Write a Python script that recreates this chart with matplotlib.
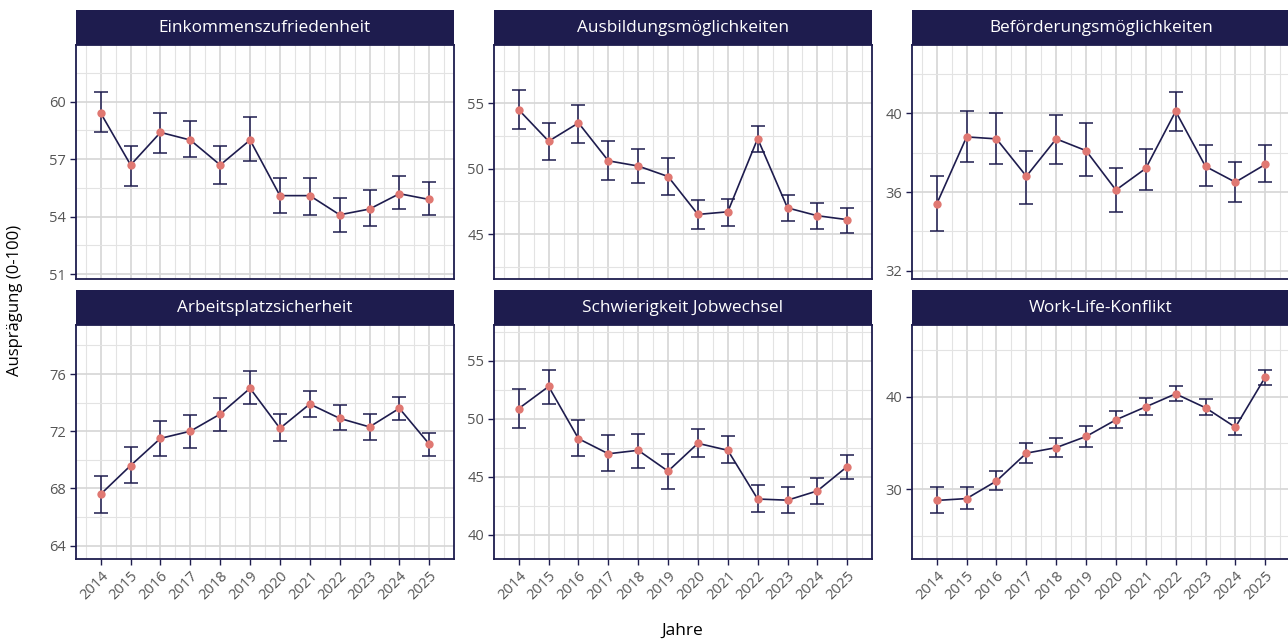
import numpy as np
import matplotlib
matplotlib.use("Agg")
from matplotlib import pyplot as plt

plt.rcParams['font.family'] = ['Open Sans', 'DejaVu Sans']

# data
years = list(range(2014, 2026))

titles = ["Einkommenszufriedenheit", "Ausbildungsmöglichkeiten",
          "Beförderungsmöglichkeiten", "Arbeitsplatzsicherheit",
          "Schwierigkeit Jobwechsel", "Work-Life-Konflikt"]

einkommen = [59.4, 56.7, 58.4, 58.0, 56.7, 58.0, 55.1, 55.1, 54.1, 54.4, 55.2, 54.9]
einkommen_lo = [58.4, 55.6, 57.3, 57.1, 55.7, 56.9, 54.2, 54.1, 53.2, 53.5, 54.4, 54.1]
einkommen_hi = [60.5, 57.7, 59.4, 59.0, 57.7, 59.2, 56.0, 56.0, 55.0, 55.4, 56.1, 55.8]

ausbildung = [54.5, 52.1, 53.5, 50.6, 50.2, 49.4, 46.5, 46.7, 52.3, 47.0, 46.4, 46.1]
ausbildung_lo = [53.0, 50.7, 52.0, 49.1, 48.9, 48.0, 45.4, 45.6, 51.3, 46.0, 45.4, 45.1]
ausbildung_hi = [56.0, 53.5, 54.9, 52.1, 51.5, 50.8, 47.6, 47.7, 53.3, 48.0, 47.4, 47.0]

befoerderung = [35.4, 38.8, 38.7, 36.8, 38.7, 38.1, 36.1, 37.2, 40.1, 37.3, 36.5, 37.4]
befoerderung_lo = [34.0, 37.5, 37.4, 35.4, 37.4, 36.8, 35.0, 36.1, 39.1, 36.3, 35.5, 36.5]
befoerderung_hi = [36.8, 40.1, 40.0, 38.1, 39.9, 39.5, 37.2, 38.2, 41.1, 38.4, 37.5, 38.4]

sicherheit = [67.6, 69.6, 71.5, 72.0, 73.2, 75.0, 72.2, 73.9, 72.9, 72.3, 73.6, 71.1]
sicherheit_lo = [66.3, 68.4, 70.3, 70.8, 72.0, 73.9, 71.3, 73.0, 72.1, 71.4, 72.8, 70.3]
sicherheit_hi = [68.9, 70.9, 72.7, 73.1, 74.3, 76.2, 73.2, 74.8, 73.8, 73.2, 74.4, 71.9]

jobwechsel = [50.9, 52.8, 48.3, 47.0, 47.3, 45.5, 47.9, 47.3, 43.1, 43.0, 43.8, 45.9]
jobwechsel_lo = [49.2, 51.3, 46.8, 45.5, 45.8, 44.0, 46.7, 46.2, 42.0, 41.9, 42.7, 44.8]
jobwechsel_hi = [52.6, 54.2, 49.9, 48.6, 48.7, 47.0, 49.1, 48.5, 44.3, 44.1, 44.9, 46.9]

worklife = [28.8, 29.0, 30.9, 33.9, 34.5, 35.7, 37.5, 38.9, 40.3, 38.8, 36.7, 42.1]
worklife_lo = [27.4, 27.9, 29.9, 32.8, 33.5, 34.6, 36.6, 38.0, 39.5, 38.0, 35.9, 41.3]
worklife_hi = [30.2, 30.2, 32.0, 35.0, 35.5, 36.8, 38.4, 39.8, 41.2, 39.7, 37.7, 42.9]

means = [einkommen, ausbildung, befoerderung, sicherheit, jobwechsel, worklife]
lows = [einkommen_lo, ausbildung_lo, befoerderung_lo, sicherheit_lo, jobwechsel_lo, worklife_lo]
highs = [einkommen_hi, ausbildung_hi, befoerderung_hi, sicherheit_hi, jobwechsel_hi, worklife_hi]

ylims = [(50.75, 62.96), (41.56, 59.46), (31.58, 43.47),
         (63.06, 79.43), (37.93, 58.10), (22.48, 47.73)]
yticks = [[51, 54, 57, 60], [45, 50, 55], [32, 36, 40],
          [64, 68, 72, 76], [40, 45, 50, 55], [30, 40]]
yminor = [[52.5, 55.5, 58.5, 61.5], [42.5, 47.5, 52.5, 57.5], [34, 38, 42],
          [66, 70, 74, 78], [42.5, 47.5, 52.5, 57.5], [25, 35, 45]]

navy = "#1e1c4e"
salmon = "#e07872"
W, H = 1288, 642

fig = plt.figure(figsize=(W / 100, H / 100), dpi=100)

col_x = [76, 494, 912]
pw = 378
row_y = [45, 325]
ph = 234
sh = 35

for i in range(6):
    r, c = divmod(i, 3)
    x0, y0 = col_x[c], row_y[r]
    ax = fig.add_axes([x0 / W, 1 - (y0 + ph) / H, pw / W, ph / H])
    sax = fig.add_axes([x0 / W, 1 - y0 / H, pw / W, sh / H])
    sax.set_facecolor(navy)
    sax.set_xticks([])
    sax.set_yticks([])
    for s in sax.spines.values():
        s.set_visible(False)
    sax.text(0.5, 0.48, titles[i], color="white", fontsize=12.4,
             ha="center", va="center", transform=sax.transAxes)

    m = np.array(means[i])
    lo = np.array(lows[i])
    hi = np.array(highs[i])
    ax.errorbar(years, m, yerr=[m - lo, hi - m], fmt="none", ecolor=navy,
                elinewidth=1.1, capsize=5, capthick=1.1, zorder=3)
    ax.plot(years, m, color=navy, lw=1.2, zorder=4)
    ax.plot(years, m, "o", color=salmon, ms=6, mec="none", zorder=5)

    ax.set_xlim(2014 - 0.83, 2025 + 0.83)
    ax.set_ylim(*ylims[i])
    ax.set_yticks(yticks[i])
    ax.set_yticks(yminor[i], minor=True)
    ax.set_xticks(years)
    ax.set_xticks(np.arange(2013.5, 2026, 1), minor=True)
    ax.grid(which="major", color="#d6d6d6", lw=1.2)
    ax.grid(which="minor", color="#e3e3e3", lw=0.8)
    ax.set_axisbelow(True)
    for s in ax.spines.values():
        s.set_color(navy)
        s.set_linewidth(1.3)
    ax.tick_params(which="major", length=4, width=1, color=navy,
                   labelsize=10.5, labelcolor="#555555", pad=3)
    ax.tick_params(which="minor", length=0)
    if r == 0:
        ax.tick_params(axis="x", labelbottom=False, length=0)
    else:
        ax.set_xticklabels([str(y) for y in years], rotation=45,
                           ha="right", va="top", rotation_mode="anchor")

fig.text(682 / W, 1 - 631 / H, "Jahre", fontsize=12.5, ha="center", va="center")
fig.text(15 / W, 1 - 300 / H, "Ausprägung (0-100)", fontsize=12,
         rotation=90, ha="center", va="center")

fig.savefig("out.png", dpi=100)
